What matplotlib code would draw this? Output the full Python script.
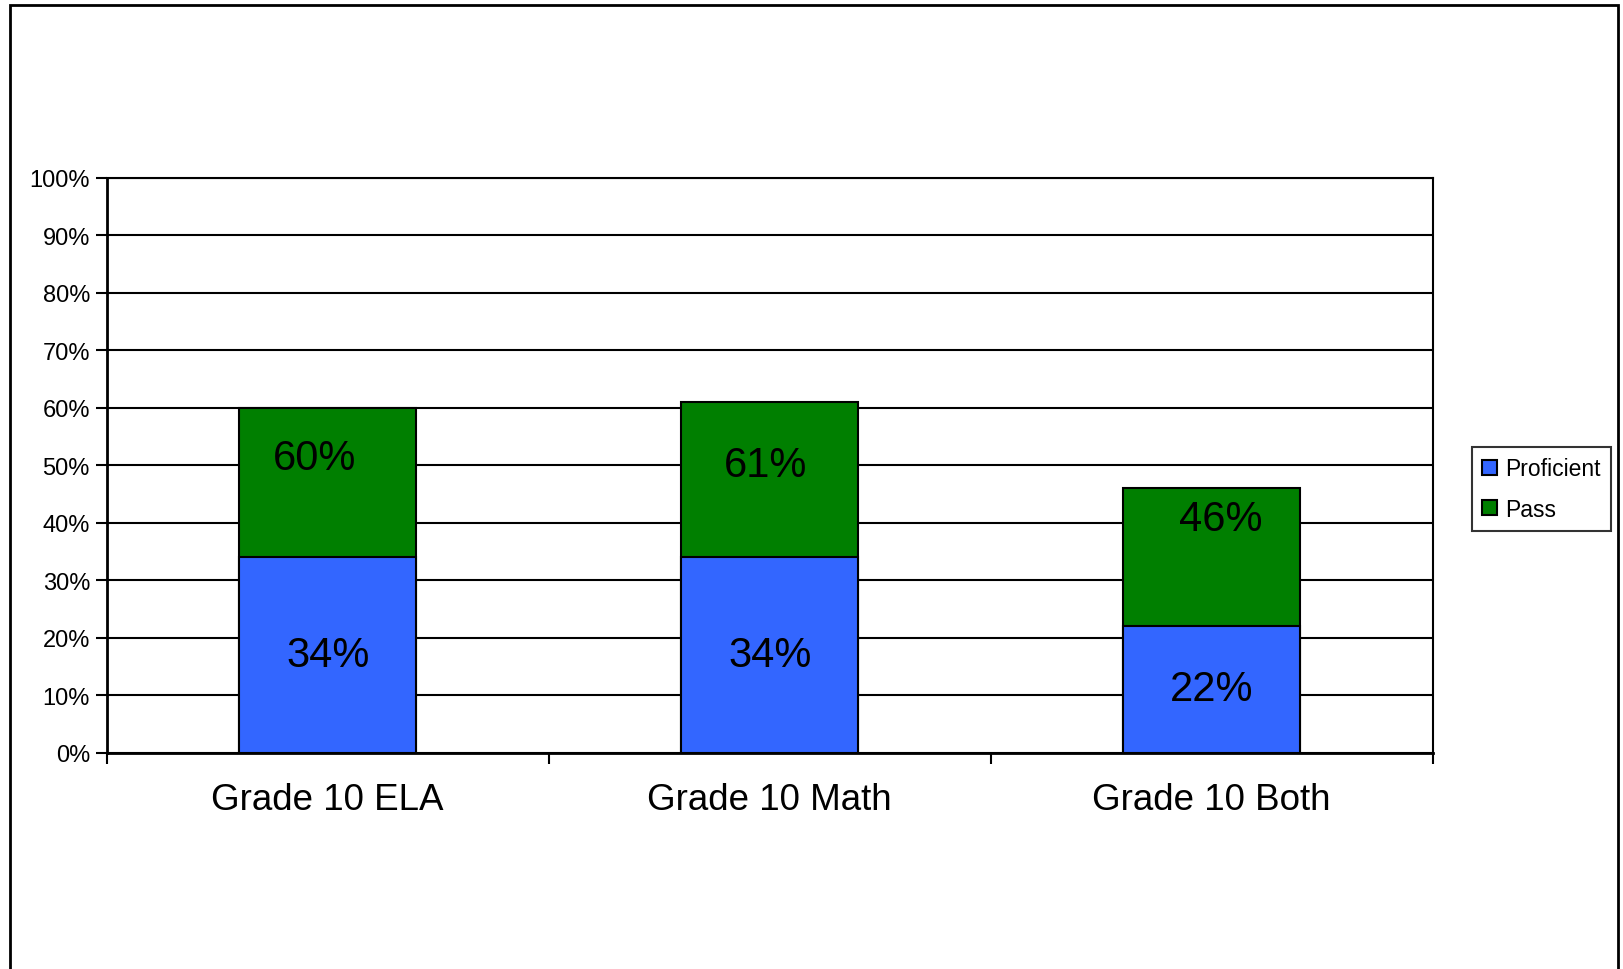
import numpy as np
import matplotlib.pyplot as plt
from matplotlib.patches import Rectangle
from matplotlib.ticker import FuncFormatter

plt.rcParams['font.family'] = ['Liberation Sans', 'DejaVu Sans']

categories = ["Grade 10 ELA", "Grade 10 Math", "Grade 10 Both"]
proficient = [34, 34, 22]
passed = [60, 61, 46]

fig = plt.figure(figsize=(16.23, 9.70), dpi=100)
ax = fig.add_axes([0.0657, 0.2231, 0.8170, 0.5924])

x = np.arange(len(categories))
width = 0.4

# Pass is the total, proficient is drawn in front of it
ax.bar(x, passed, width, color="#007F00", edgecolor="black", linewidth=1.5,
       label="Pass", zorder=3)
ax.bar(x, proficient, width, color="#3366FF", edgecolor="black", linewidth=1.5,
       label="Proficient", zorder=4)

# labels (placed like in the original chart)
pass_label_y = [51.3, 50.0, 40.6]
pass_label_dx = [-0.03, -0.01, 0.02]
for i in range(len(categories)):
    ax.text(x[i], proficient[i] / 2, f"{proficient[i]}%", ha="center", va="center",
            fontsize=30, zorder=5)
    ax.text(x[i] + pass_label_dx[i], pass_label_y[i], f"{passed[i]}%", ha="center",
            va="center", fontsize=30, zorder=5)

ax.set_xlim(-0.5, 2.5)
ax.set_ylim(0, 100)
ax.set_yticks(np.arange(0, 101, 10))
ax.yaxis.set_major_formatter(FuncFormatter(lambda v, p: f"{v:.0f}%"))
ax.yaxis.grid(True, color="black", linewidth=1.5, zorder=1)
ax.set_axisbelow(True)

ax.set_xticks(x)
ax.set_xticklabels(categories, fontsize=26.5)
ax.tick_params(axis="x", length=0, pad=21)
ax.set_xticks([-0.5, 0.5, 1.5, 2.5], minor=True)
ax.tick_params(axis="x", which="minor", length=8, width=1.5)
ax.tick_params(axis="y", labelsize=17, length=8, width=1.5, pad=4)

for s in ax.spines.values():
    s.set_linewidth(1.5)
    s.set_color("black")
ax.spines["left"].set_linewidth(2)
ax.spines["bottom"].set_linewidth(2)

handles, labels = ax.get_legend_handles_labels()
leg = fig.legend(handles[::-1], labels[::-1], loc="upper left",
                 bbox_to_anchor=(0.9069, 0.538), fontsize=16.5, frameon=True,
                 fancybox=False, edgecolor="black", handlelength=0.65,
                 handleheight=0.65, handletextpad=0.35, labelspacing=0.75,
                 borderpad=0.45, borderaxespad=0)
leg.get_frame().set_linewidth(1.5)

# outer chart frame (bottom edge runs off the picture)
fig.patches.append(Rectangle((10 / 1623, -0.05), 1608 / 1623, 1.05 - 6 / 970,
                             transform=fig.transFigure, fill=False,
                             edgecolor="black", linewidth=2))

fig.savefig("out.png", dpi=100)
